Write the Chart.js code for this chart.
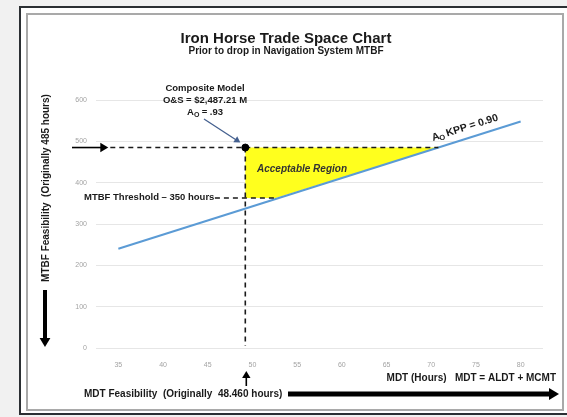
<!DOCTYPE html>
<html>
<head>
<meta charset="utf-8">
<script src="https://cdn.jsdelivr.net/npm/chart.js@4"></script>
<style>
  html, body { margin: 0; padding: 0; background: #f1f1f1; }
  #wrap { width: 567px; height: 417px; position: relative; }
</style>
</head>
<body>
<div id="wrap"><canvas id="chart" width="567" height="417"></canvas></div>
<script>
// values
const xTicks = [35, 40, 45, 50, 55, 60, 65, 70, 75, 80];
const yTicks = [0, 100, 200, 300, 400, 500, 600];
const kppLine = [{x: 35, y: 240}, {x: 80, y: 548}];
const acceptable = [{x: 49.2, y: 485}, {x: 70.8, y: 485}, {x: 52.6, y: 363}, {x: 49.2, y: 363}, {x: 49.2, y: 485}];
const mtbfFeasible = [{x: 34.1, y: 485}, {x: 70.8, y: 485}];
const mdtFeasible = [{x: 49.2, y: 485}, {x: 49.2, y: 5}];
const threshold = [{x: 45.8, y: 363}, {x: 52.6, y: 363}];
const compositePoint = [{x: 49.2, y: 485}];

const FONT = '"Liberation Sans", Arial, sans-serif';

function arrow(ctx, x1, y1, x2, y2, width, head, color) {
  const a = Math.atan2(y2 - y1, x2 - x1);
  ctx.save();
  ctx.strokeStyle = color;
  ctx.fillStyle = color;
  ctx.lineWidth = width;
  ctx.beginPath();
  ctx.moveTo(x1, y1);
  ctx.lineTo(x2 - Math.cos(a) * head * 0.8, y2 - Math.sin(a) * head * 0.8);
  ctx.stroke();
  ctx.beginPath();
  ctx.moveTo(x2, y2);
  ctx.lineTo(x2 - Math.cos(a) * head - Math.sin(a) * head * 0.6, y2 - Math.sin(a) * head + Math.cos(a) * head * 0.6);
  ctx.lineTo(x2 - Math.cos(a) * head + Math.sin(a) * head * 0.6, y2 - Math.sin(a) * head - Math.cos(a) * head * 0.6);
  ctx.closePath();
  ctx.fill();
  ctx.restore();
}

const frame = {
  id: 'frame',
  beforeDraw(chart) {
    const ctx = chart.ctx;
    ctx.save();
    ctx.fillStyle = '#f1f1f1';
    ctx.fillRect(0, 0, 567, 417);
    ctx.fillStyle = '#ffffff';
    ctx.fillRect(19, 6, 560, 409);
    ctx.strokeStyle = '#2b2f33';
    ctx.lineWidth = 2;
    ctx.strokeRect(20, 7, 560, 407);
    ctx.strokeStyle = '#a9a9a9';
    ctx.lineWidth = 2;
    ctx.strokeRect(27, 14, 536, 396);
    ctx.restore();
  }
};

const notes = {
  id: 'notes',
  afterDraw(chart) {
    const ctx = chart.ctx;
    const xs = chart.scales.x, ys = chart.scales.y;
    ctx.save();
    ctx.fillStyle = '#1a1a1a';
    ctx.textAlign = 'center';
    ctx.textBaseline = 'alphabetic';
    ctx.font = 'bold 15px ' + FONT;
    ctx.fillText('Iron Horse Trade Space Chart', 286, 43);
    ctx.font = 'bold 10px ' + FONT;
    ctx.fillText('Prior to drop in Navigation System MTBF', 286, 54);

    // composite model label
    ctx.font = 'bold 9.5px ' + FONT;
    ctx.fillText('Composite Model', 205, 91);
    ctx.fillText('O&S = $2,487.21 M', 205, 103);
    ctx.textAlign = 'left';
    ctx.fillText('A', 187, 115);
    ctx.font = 'bold 7px ' + FONT;
    ctx.fillText('O', 194, 117);
    ctx.font = 'bold 9.5px ' + FONT;
    ctx.fillText(' = .93', 199, 115);
    const px = xs.getPixelForValue(compositePoint[0].x), py = ys.getPixelForValue(compositePoint[0].y);
    arrow(ctx, 204, 119, px - 5, py - 5, 1.3, 6, '#44608f');

    // acceptable region
    ctx.textAlign = 'center';
    ctx.font = 'italic bold 10px ' + FONT;
    ctx.fillStyle = '#333333';
    ctx.fillText('Acceptable Region', 302, 172);

    // threshold label
    ctx.fillStyle = '#1a1a1a';
    ctx.textAlign = 'left';
    ctx.font = 'bold 9.5px ' + FONT;
    ctx.fillText('MTBF Threshold \u2013 350 hours', 84, 200);

    // KPP label along the line
    const a = Math.atan2(ys.getPixelForValue(kppLine[1].y) - ys.getPixelForValue(kppLine[0].y),
                         xs.getPixelForValue(kppLine[1].x) - xs.getPixelForValue(kppLine[0].x));
    ctx.save();
    ctx.translate(433, 141);
    ctx.rotate(a);
    ctx.font = 'bold 10.5px ' + FONT;
    ctx.fillText('A', 0, 0);
    ctx.font = 'bold 7.5px ' + FONT;
    ctx.fillText('O', 7, 2);
    ctx.font = 'bold 10.5px ' + FONT;
    ctx.fillText(' KPP = 0.90', 12, 0);
    ctx.restore();

    // left arrow to the 485 line
    const y485 = ys.getPixelForValue(mtbfFeasible[0].y);
    arrow(ctx, 72, y485, xs.getPixelForValue(mtbfFeasible[0].x) - 2, y485, 1.6, 8, '#000');

    // up arrow under x axis
    const xv = xs.getPixelForValue(mdtFeasible[0].x);
    arrow(ctx, xv + 1, 386, xv + 1, 371, 1.6, 7, '#000');

    // y axis title and arrow
    ctx.save();
    ctx.translate(49, 188);
    ctx.rotate(-Math.PI / 2);
    ctx.textAlign = 'center';
    ctx.font = 'bold 10px ' + FONT;
    ctx.fillText('MTBF Feasibility  (Originally 485 hours)', 0, 0);
    ctx.restore();
    arrow(ctx, 45, 290, 45, 347, 4, 9, '#000');

    // x axis titles and arrow
    ctx.textAlign = 'right';
    ctx.font = 'bold 10px ' + FONT;
    ctx.fillText('MDT (Hours)   MDT = ALDT + MCMT', 556, 381);
    ctx.textAlign = 'left';
    ctx.fillText('MDT Feasibility  (Originally  48.460 hours)', 84, 397);
    arrow(ctx, 288, 394, 559, 394, 5, 10, '#000');
    ctx.restore();
  }
};

const dashStyle = {borderColor: '#1a1a1a', borderWidth: 1.6, borderDash: [5, 4], pointRadius: 0, fill: false, showLine: true};

new Chart(document.getElementById('chart'), {
  type: 'scatter',
  data: {
    datasets: [
      Object.assign({data: compositePoint, pointRadius: 3.5, pointBackgroundColor: '#000', pointBorderColor: '#000', showLine: false, order: 0}),
      Object.assign({}, dashStyle, {data: mtbfFeasible, order: 1}),
      Object.assign({}, dashStyle, {data: mdtFeasible, order: 1}),
      Object.assign({}, dashStyle, {data: threshold, order: 1}),
      {data: kppLine, showLine: true, borderColor: '#5b9bd5', borderWidth: 2, pointRadius: 0, fill: false, order: 2},
      {data: acceptable, showLine: true, borderWidth: 0, borderColor: 'rgba(0,0,0,0)', backgroundColor: '#ffff1e', pointRadius: 0, fill: 'shape', order: 3}
    ]
  },
  options: {
    responsive: false,
    animation: false,
    layout: {padding: {top: 100, right: 24, left: 0, bottom: 0}},
    plugins: {legend: {display: false}, tooltip: {enabled: false}, title: {display: false}},
    scales: {
      x: {
        type: 'linear', min: 32.5, max: 82.5,
        afterBuildTicks: (s) => { s.ticks = xTicks.map(v => ({value: v})); },
        afterFit: (s) => { s.height = 69; },
        grid: {display: false},
        border: {display: false},
        ticks: {color: '#a3a3a3', font: {size: 7, family: FONT}, padding: 5, maxRotation: 0}
      },
      y: {
        min: 0, max: 600,
        afterBuildTicks: (s) => { s.ticks = yTicks.map(v => ({value: v})); },
        afterFit: (s) => { s.width = 96; },
        grid: {color: '#e6e6e6', drawTicks: false, lineWidth: 1},
        border: {display: false},
        ticks: {color: '#a3a3a3', font: {size: 7, family: FONT}, padding: 9}
      }
    }
  },
  plugins: [frame, notes]
});
</script>
</body>
</html>
